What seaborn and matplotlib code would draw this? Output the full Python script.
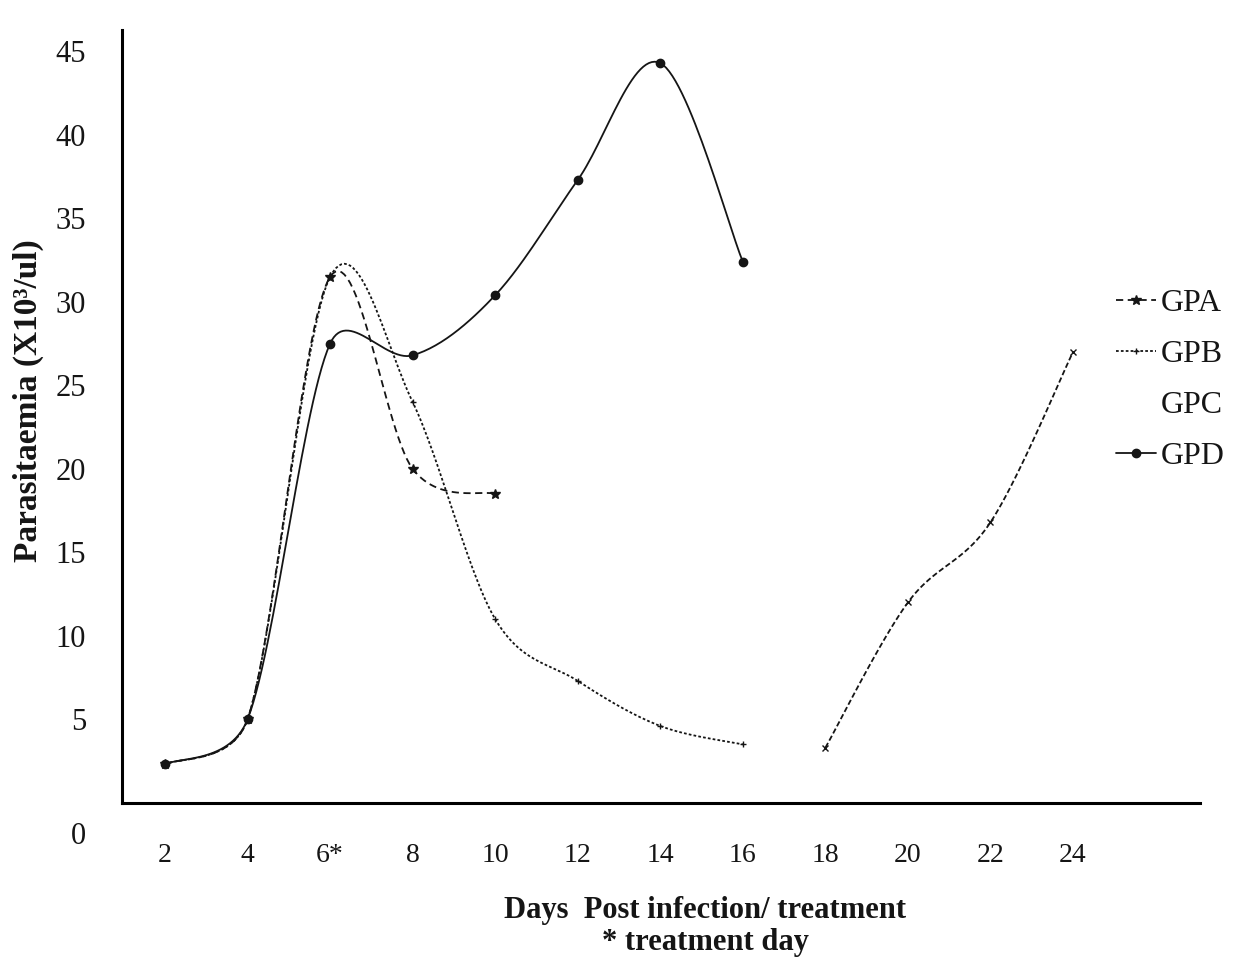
import numpy as np
import pandas as pd
import matplotlib
matplotlib.use("Agg")
import matplotlib.pyplot as plt
import matplotlib.transforms as mtransforms
from matplotlib.lines import Line2D
import seaborn as sns

# values
days_a = [2, 4, 6, 8, 10]
gpa = [2.3, 5.0, 31.5, 20.0, 18.5]

days_b = [2, 4, 6, 8, 10, 12, 14, 16]
gpb = [2.3, 5.0, 31.5, 24.0, 11.0, 7.3, 4.6, 3.5]

days_c = [18, 20, 22, 24]
gpc = [3.3, 12.0, 16.8, 27.0]

days_d = [2, 4, 6, 8, 10, 12, 14, 16]
gpd = [2.3, 5.0, 27.5, 26.8, 30.4, 37.3, 44.3, 32.4]

tick_days = [2, 4, 6, 8, 10, 12, 14, 16, 18, 20, 22, 24]
tick_labels = ["2", "4", "6*", "8", "10", "12", "14", "16", "18", "20", "22", "24"]
y_ticks = [0, 5, 10, 15, 20, 25, 30, 35, 40, 45]


def smooth(xs, ys, n=30, aspect=0.404):
    # Excel-style smoothed line: cubic Bezier through the points,
    # control arms clamped (in screen proportions) to avoid overshoot dips
    p = np.column_stack([xs, np.asarray(ys, float) * aspect]).astype(float)
    pe = np.vstack([p[0], p, p[-1]])
    t = np.linspace(0, 1, n)[:, None]
    out = []
    for i in range(len(p) - 1):
        p0, p1, p2, p3 = pe[i], pe[i + 1], pe[i + 2], pe[i + 3]
        chord = np.linalg.norm(p2 - p1)
        a1 = (p2 - p0) / 6
        a2 = (p3 - p1) / 6
        for a in (a1, a2):
            L = np.linalg.norm(a)
            if L > 0.5 * chord:
                a *= 0.5 * chord / L
        c1 = p1 + a1
        c2 = p2 - a2
        seg = (1 - t) ** 3 * p1 + 3 * (1 - t) ** 2 * t * c1 + 3 * (1 - t) * t ** 2 * c2 + t ** 3 * p2
        out.append(seg if i == 0 else seg[1:])
    s = np.vstack(out)
    return pd.DataFrame({"day": s[:, 0], "value": s[:, 1] / aspect})


sns.set_theme(style="white")
plt.rcParams["font.family"] = ["Liberation Serif", "DejaVu Serif"]

ink = "#151515"
series = [
    ("GPA", days_a, gpa, (0, (4, 2.5)), "*", 7),
    ("GPB", days_b, gpb, (0, (1.5, 1.2)), "+", 5),
    ("GPC", days_c, gpc, (0, (3, 1.5)), "x", 4),
    ("GPD", days_d, gpd, "-", "o", 6),
]

fig = plt.figure(figsize=(12.58, 9.58), dpi=100)
ax = fig.add_axes([0.097, 0.162, 0.857, 0.807])

for name, xs, ys, ls, mk, ms in series:
    sm = smooth(xs, ys)
    sns.lineplot(data=sm, x="day", y="value", sort=False, estimator=None,
                 color=ink, linewidth=1.3, linestyle=ls, ax=ax)
    pts = pd.DataFrame({"day": xs, "value": ys})
    sns.lineplot(data=pts, x="day", y="value", estimator=None, color=ink,
                 linestyle="none", marker=mk, markersize=ms,
                 markeredgecolor=ink, markeredgewidth=1.0, ax=ax)

ax.set_xlim(0.958, 27.08)
ax.set_ylim(0, 46.3)
ax.set_xticks(tick_days)
ax.set_xticklabels(tick_labels)
ax.set_yticks(y_ticks)
ax.tick_params(axis="both", length=0, colors=ink)
ax.tick_params(axis="x", pad=29, labelsize=20)
ax.tick_params(axis="y", pad=26, labelsize=22)

for side in ["top", "right"]:
    ax.spines[side].set_visible(False)
for side in ["left", "bottom"]:
    ax.spines[side].set_color("black")
    ax.spines[side].set_linewidth(2.2)

# the "0" label sits lower than the axis in the original
zero = ax.get_yticklabels()[0]
zero.set_transform(zero.get_transform()
                   + mtransforms.ScaledTranslation(0, -0.3, fig.dpi_scale_trans))

ax.set_ylabel("Parasitaemia (X10³/ul)", fontsize=24, fontweight="bold", color=ink)
ax.yaxis.set_label_coords(-0.072, 0.52)
ax.set_xlabel("Days  Post infection/ treatment\n* treatment day",
              fontsize=22, fontweight="bold", color=ink, linespacing=1.1)
ax.xaxis.set_label_coords(0.541, -0.121)

handles = [
    Line2D([], [], color=ink, lw=1.3, linestyle=(0, (4, 2.5)), marker="*", markersize=7),
    Line2D([], [], color=ink, lw=1.3, linestyle=(0, (1.5, 1.2)), marker="+", markersize=5),
    Line2D([], [], linestyle="none"),
    Line2D([], [], color=ink, lw=1.3, linestyle="-", marker="o", markersize=6),
]
fig.legend(handles, ["GPA", "GPB", "GPC", "GPD"], loc="center left",
           bbox_to_anchor=(1116 / 1258, 1 - 380 / 958), frameon=False,
           fontsize=23, handlelength=1.25, handletextpad=0.15,
           labelspacing=0.68, borderpad=0, borderaxespad=0,
           labelcolor=ink)

fig.savefig("out.png", dpi=100, facecolor="white")
